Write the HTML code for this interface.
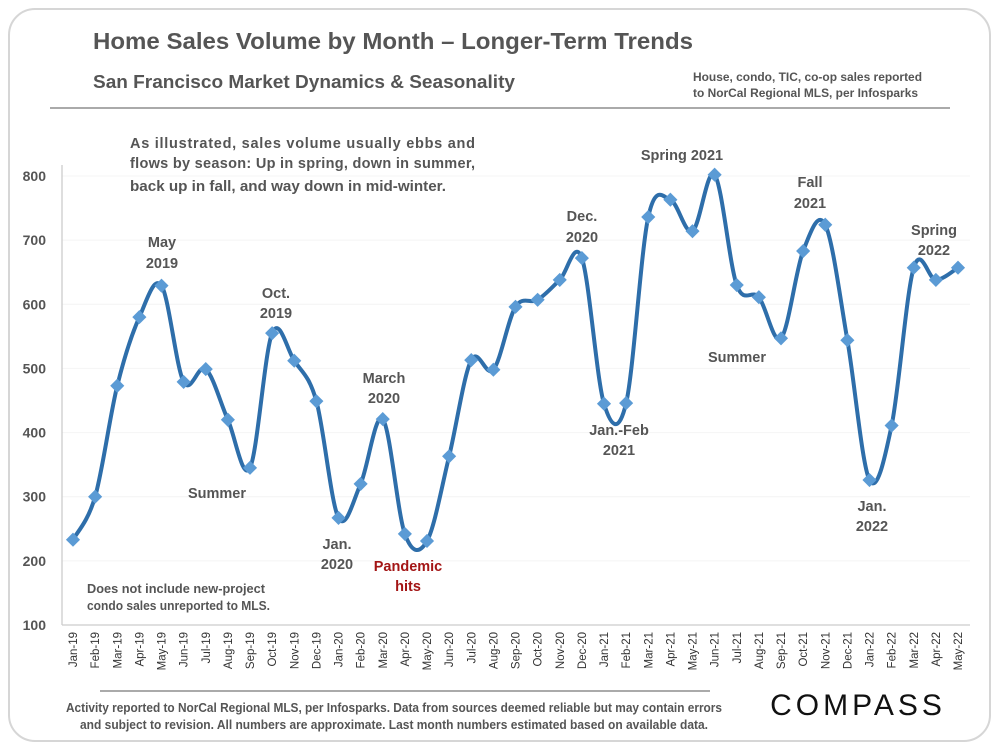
<!DOCTYPE html>
<html><head><meta charset="utf-8"><style>
body{margin:0;width:1000px;height:750px;background:#fff;overflow:hidden;font-family:"Liberation Sans",sans-serif}
svg text{font-family:"Liberation Sans",sans-serif;font-weight:bold;fill:#555}
</style></head><body>
<svg id="chart" width="1000" height="750" viewBox="0 0 1000 750">
<rect x="9" y="9" width="981" height="732" rx="26" fill="#fff" stroke="#d6d6d6" stroke-width="2"/>
<text x="93" y="49" font-size="23" fill="#595959" textLength="600" lengthAdjust="spacingAndGlyphs">Home Sales Volume by Month – Longer-Term Trends</text>
<text x="93" y="88" font-size="18" fill="#595959" textLength="422" lengthAdjust="spacingAndGlyphs">San Francisco Market Dynamics &amp; Seasonality</text>
<text x="693" y="81" font-size="11.5" textLength="229" lengthAdjust="spacingAndGlyphs">House, condo, TIC, co-op sales reported</text>
<text x="693" y="97" font-size="11.5" textLength="225" lengthAdjust="spacingAndGlyphs">to NorCal Regional MLS, per Infosparks</text>
<line x1="50" y1="108" x2="950" y2="108" stroke="#777" stroke-width="1.3"/>
<g id="grid"></g>
<line x1="62" y1="165" x2="62" y2="625" stroke="#ccc" stroke-width="1.3"/>
<line x1="62" y1="625" x2="970" y2="625" stroke="#ccc" stroke-width="1.3"/>
<g id="yticks"></g><g id="xticks"></g>
<path id="line" fill="none" stroke="#2e6eaa" stroke-width="4"/>
<g id="pts"></g>
<rect x="64" y="572" width="230" height="44" fill="#fff"/>
<g font-size="14.5">
<text font-size="14.5"><tspan x="130" y="148" textLength="345" lengthAdjust="spacing">As illustrated, sales volume usually ebbs and</tspan><tspan x="130" y="168" textLength="345" lengthAdjust="spacing">flows by season: Up in spring, down in summer,</tspan><tspan x="130" y="191" textLength="316" lengthAdjust="spacingAndGlyphs">back up in fall, and way down in mid-winter.</tspan></text>
<text font-size="13"><tspan x="87" y="593" textLength="178" lengthAdjust="spacingAndGlyphs">Does not include new-project</tspan><tspan x="87" y="610" textLength="183" lengthAdjust="spacingAndGlyphs">condo sales unreported to MLS.</tspan></text>
<text text-anchor="middle"><tspan x="162" y="247">May</tspan><tspan x="162" y="268">2019</tspan></text>
<text text-anchor="middle"><tspan x="276" y="298">Oct.</tspan><tspan x="276" y="318">2019</tspan></text>
<text text-anchor="middle" x="217" y="498">Summer</text>
<text text-anchor="middle"><tspan x="337" y="549">Jan.</tspan><tspan x="337" y="569">2020</tspan></text>
<text text-anchor="middle"><tspan x="384" y="383">March</tspan><tspan x="384" y="403">2020</tspan></text>
<text text-anchor="middle" style="fill:#a31515"><tspan x="408" y="571">Pandemic</tspan><tspan x="408" y="591">hits</tspan></text>
<text text-anchor="middle"><tspan x="582" y="221">Dec.</tspan><tspan x="582" y="242">2020</tspan></text>
<text text-anchor="middle"><tspan x="619" y="435">Jan.-Feb</tspan><tspan x="619" y="455">2021</tspan></text>
<text text-anchor="middle" x="682" y="160">Spring 2021</text>
<text text-anchor="middle" x="737" y="362">Summer</text>
<text text-anchor="middle"><tspan x="810" y="187">Fall</tspan><tspan x="810" y="208">2021</tspan></text>
<text text-anchor="middle"><tspan x="872" y="511">Jan.</tspan><tspan x="872" y="531">2022</tspan></text>
<text text-anchor="middle"><tspan x="934" y="235">Spring</tspan><tspan x="934" y="255">2022</tspan></text>
</g>
<line x1="100" y1="691" x2="710" y2="691" stroke="#777" stroke-width="1.3"/>
<text font-size="12.5"><tspan x="66" y="712" textLength="656" lengthAdjust="spacingAndGlyphs">Activity reported to NorCal Regional MLS, per Infosparks. Data from sources deemed reliable but may contain errors</tspan><tspan x="80" y="729" textLength="628" lengthAdjust="spacingAndGlyphs">and subject to revision. All numbers are approximate. Last month numbers estimated based on available data.</tspan></text>
<text x="858" y="715" font-size="30" text-anchor="middle" style="fill:#111;font-weight:normal;letter-spacing:4px">COMPASS</text>
</svg>
<script>
const months=["Jan-19","Feb-19","Mar-19","Apr-19","May-19","Jun-19","Jul-19","Aug-19","Sep-19","Oct-19","Nov-19","Dec-19","Jan-20","Feb-20","Mar-20","Apr-20","May-20","Jun-20","Jul-20","Aug-20","Sep-20","Oct-20","Nov-20","Dec-20","Jan-21","Feb-21","Mar-21","Apr-21","May-21","Jun-21","Jul-21","Aug-21","Sep-21","Oct-21","Nov-21","Dec-21","Jan-22","Feb-22","Mar-22","Apr-22","May-22"];
const sales=[233,300,473,580,629,479,499,420,345,555,512,449,267,320,421,242,231,363,513,498,596,607,638,672,445,446,736,763,714,802,630,611,547,683,724,544,326,411,657,638,657];
const yTicks=[100,200,300,400,500,600,700,800];
const NS="http://www.w3.org/2000/svg";
const x=i=>73+i*(958-73)/(months.length-1);
const y=v=>625-(v-100)*(625-176)/700;
function mk(t,a,p){const e=document.createElementNS(NS,t);for(const k in a)e.setAttribute(k,a[k]);document.getElementById(p).appendChild(e);return e;}
yTicks.forEach(v=>{
 const g=mk('line',{x1:62,x2:970,y1:y(v),y2:y(v),stroke:'#f4f4f4','stroke-width':1},'grid');
 
 
 const t=mk('text',{x:46,y:y(v)+5,'text-anchor':'end','font-size':14},'yticks');
 t.textContent=v;
 
 
});
months.forEach((m,i)=>{
 const t=mk('text',{transform:`translate(${x(i)+4},632) rotate(-90)`,'text-anchor':'end','font-size':11.5,style:'font-weight:normal;fill:#333'},'xticks');
 t.textContent=m;
 
 
});
const P=sales.map((v,i)=>[x(i),y(v)]);
let d=`M${P[0][0]},${P[0][1]}`;
for(let i=0;i<P.length-1;i++){
 const p0=P[Math.max(0,i-1)],p1=P[i],p2=P[i+1],p3=P[Math.min(P.length-1,i+2)],k=1/6;
 d+=` C${p1[0]+(p2[0]-p0[0])*k},${p1[1]+(p2[1]-p0[1])*k} ${p2[0]-(p3[0]-p1[0])*k},${p2[1]-(p3[1]-p1[1])*k} ${p2[0]},${p2[1]}`;
}
document.getElementById('line').setAttribute('d',d);
P.forEach(p=>{
 const r=mk('rect',{x:p[0]-5,y:p[1]-5,width:10,height:10,fill:'#5b9bd5',transform:`rotate(45 ${p[0]} ${p[1]})`},'pts');
 
 
});
</script>
</body></html>
